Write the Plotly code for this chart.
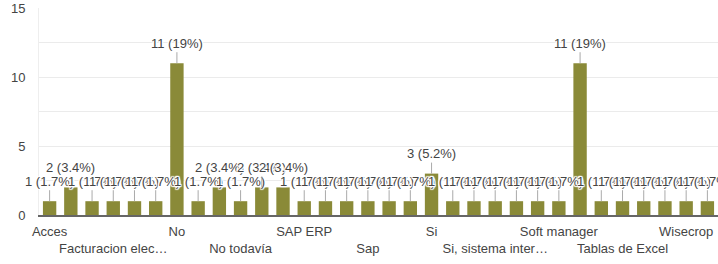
import plotly.graph_objects as go

# Response counts per option (options sorted alphabetically, 32 options)
values = [1, 2, 1, 1, 1, 1, 11, 1, 2, 1, 2, 2, 1, 1, 1, 1,
          1, 1, 3, 1, 1, 1, 1, 1, 1, 11, 1, 1, 1, 1, 1, 1]
# Only every third option's label is shown on the axis
tick_positions = [0, 3, 6, 9, 12, 15, 18, 21, 24, 27, 30]
tick_labels = ["Acces", "Facturacion elec…", "No", "No todavía", "SAP ERP", "Sap",
               "Si", "Si, sistema inter…", "Soft manager", "Tablas de Excel", "Wisecrop"]
y_ticks = [0, 5, 10, 15]

x = list(range(len(values)))
total = sum(values)

bar_color = "#8a8a38"
text_color = "#444444"
font_family = "Arial, 'Liberation Sans', sans-serif"

fig = go.Figure(go.Bar(x=x, y=values, marker_color=bar_color, marker_line_width=0,
                       hoverinfo="skip"))

shadow = ("1px 0 1px #fff, -1px 0 1px #fff, 0 1px 1px #fff, 0 -1px 1px #fff, "
          "1px 1px 1px #fff, -1px -1px 1px #fff, 1px -1px 1px #fff, -1px 1px 1px #fff")
for xi, v in zip(x, values):
    pct = 100 * v / total
    fig.add_annotation(x=xi, y=v, text=f"{v} ({pct:.2g}%)", showarrow=True,
                       arrowhead=0, arrowwidth=1, arrowcolor="#aaaaaa", ax=0, ay=-20,
                       standoff=0,
                       font=dict(size=13, color=text_color, family=font_family,
                                 shadow=shadow))

ticktext = [("<br>" + t if i % 2 else t) for i, t in enumerate(tick_labels)]

fig.update_layout(
    width=718, height=264,
    margin=dict(l=39, r=0, t=8, b=49),
    paper_bgcolor="white", plot_bgcolor="white",
    bargap=0.37,
    showlegend=False,
    font=dict(family=font_family, size=13, color=text_color),
    xaxis=dict(range=[-0.5, len(values) - 0.5], tickmode="array",
               tickvals=tick_positions, ticktext=ticktext, tickangle=0,
               showgrid=False, showline=True, linecolor="#666666", linewidth=2,
               ticks="", zeroline=False, ticklabelstandoff=3,
               tickfont=dict(size=13, color=text_color)),
    yaxis=dict(range=[0, 15], tickmode="array", tickvals=y_ticks,
               showgrid=True, gridcolor="#ebebeb", gridwidth=1,
               minor=dict(dtick=2.5, showgrid=True, gridcolor="#ebebeb", gridwidth=1),
               zeroline=False, showline=True, linecolor="#eeeeee", linewidth=1,
               ticks="", ticklabelstandoff=10,
               tickfont=dict(size=13, color=text_color)),
)

fig.write_html("out.html", config={"displayModeBar": False},
               post_script="document.body.style.margin='0';")
